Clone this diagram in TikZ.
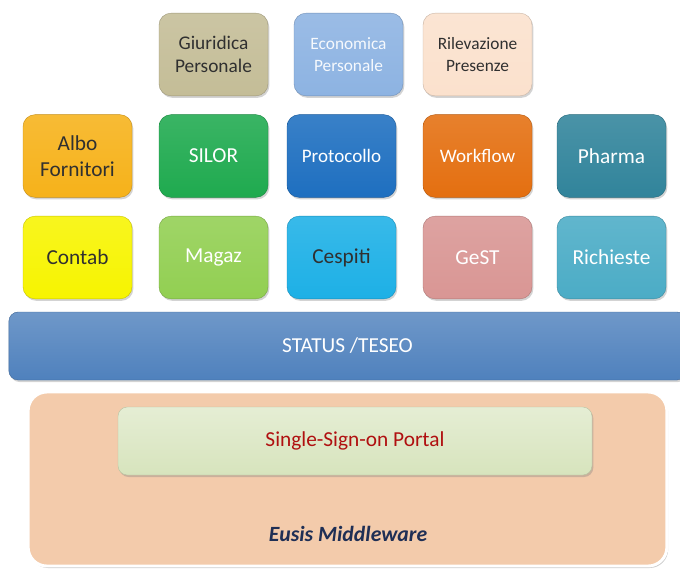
\documentclass[tikz,border=0pt]{standalone}
\usepackage{fontspec}
\setmainfont{Carlito}
\usetikzlibrary{shadows}
\definecolor{cGiu}{HTML}{C4BD97}
\definecolor{cEco}{HTML}{8DB3E2}
\definecolor{cRil}{HTML}{FBE1CD}
\definecolor{cAlbo}{HTML}{F6B21A}
\definecolor{cSilor}{HTML}{1FAA4F}
\definecolor{cProt}{HTML}{1E6FC0}
\definecolor{cWork}{HTML}{E46F10}
\definecolor{cPharma}{HTML}{31849B}
\definecolor{cContab}{HTML}{F7F400}
\definecolor{cMagaz}{HTML}{92CF52}
\definecolor{cCesp}{HTML}{1DB0E6}
\definecolor{cGest}{HTML}{D99694}
\definecolor{cRich}{HTML}{4BACC6}
\definecolor{cStatus}{HTML}{4F81BD}
\definecolor{cEusis}{HTML}{F3CBAB}
\definecolor{cSSO}{HTML}{D7E4BD}
\definecolor{cSSOtxt}{HTML}{B01010}
\definecolor{cEusTxt}{HTML}{1F2F55}
\definecolor{cDark}{HTML}{303030}
\tikzset{
  tile/.style={rounded corners=9pt, minimum width=81.75pt, minimum height=62pt,
    align=center, inner sep=2pt, font=\fontsize{16}{19}\selectfont,
    drop shadow={shadow xshift=1pt, shadow yshift=-1.5pt, opacity=0.35},
    top color=#1!88!white, bottom color=#1, draw=#1!80!black, line width=0.3pt},
  toptile/.style={tile=#1, font=\fontsize{14.5}{17.5}\selectfont},
  smalltile/.style={tile=#1, font=\fontsize{13}{16}\selectfont},
}
\begin{document}
\begin{tikzpicture}[x=0.75pt,y=-0.75pt]
\useasboundingbox (0,0) rectangle (680,569);
% top row
\node[toptile=cGiu, text=cDark] (giu) at (213.5,54.5) {Giuridica\\Personale};
\node[smalltile=cEco, text=white!92!cEco] (eco) at (348.5,54.5) {Economica\\Personale};
\node[smalltile=cRil, text=cDark] (ril) at (477.5,54.5) {Rilevazione\\Presenze};
% middle row
\node[tile=cAlbo, text=cDark] (albo) at (77.5,156) {Albo\\Fornitori};
\node[tile=cSilor, text=white] (silor) at (213.5,156) {SILOR};
\node[tile=cProt, text=white, font=\fontsize{14.3}{17}\selectfont] (prot) at (341.5,156) {Protocollo};
\node[tile=cWork, text=white, font=\fontsize{14.3}{17}\selectfont] (work) at (477.5,156) {Workflow};
\node[tile=cPharma, text=white] (pharma) at (611.5,156) {Pharma};
% bottom row
\node[tile=cContab, text=cDark] (contab) at (77.5,257.5) {Contab};
\node[tile=cMagaz, text=white] (magaz) at (213.5,257.5) {Magaz};
\node[tile=cCesp, text=cDark] (cesp) at (341.5,257.5) {Cespiti};
\node[tile=cGest, text=white] (gest) at (477.5,257.5) {GeST};
\node[tile=cRich, text=white] (rich) at (611.5,257.5) {Richieste};
% status bar
\node[rounded corners=7pt, minimum width=508pt, minimum height=51pt,
  top color=cStatus!82!white, bottom color=cStatus, draw=cStatus!80!black, line width=0.3pt,
  drop shadow={shadow xshift=1pt, shadow yshift=-1.5pt, opacity=0.35},
  text=white, font=\fontsize{16}{19}\selectfont] (status) at (347.5,346) {STATUS /TESEO};
% Eusis middleware
\node[rounded corners=14pt, minimum width=479pt, minimum height=130.5pt,
  fill=cEusis, draw=white, line width=2.2pt,
  drop shadow={shadow xshift=1pt, shadow yshift=-1.5pt, opacity=0.4}] (eusis) at (347.5,479) {};
\node[rounded corners=7pt, minimum width=355.5pt, minimum height=51pt,
  top color=cSSO!65!white, bottom color=cSSO, draw=cSSO!85!black, line width=0.3pt,
  drop shadow={shadow xshift=1pt, shadow yshift=-1.5pt, opacity=0.35},
  text=cSSOtxt, font=\fontsize{16}{19}\selectfont] (sso) at (355,441) {Single-Sign-on Portal};
\node[text=cEusTxt, font=\fontsize{16.3}{19}\selectfont\bfseries\itshape] (eustxt) at (348,534) {Eusis Middleware};
\end{tikzpicture}
\end{document}
